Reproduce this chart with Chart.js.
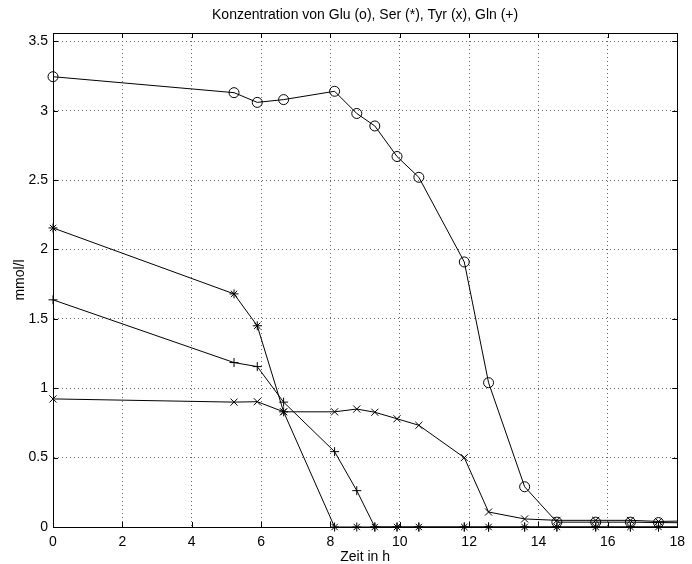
<!DOCTYPE html>
<html><head><meta charset="utf-8">
<script src="https://cdn.jsdelivr.net/npm/chart.js@4.4.1/dist/chart.umd.min.js"></script>
<style>html,body{margin:0;padding:0;background:#fff}#wrap{width:692px;height:564px;position:relative}</style>
</head><body><div id="wrap"><canvas id="c" width="692" height="564"></canvas></div>
<script>
const titleText = 'Konzentration von Glu (o), Ser (*), Tyr (x), Gln (+)';
const xTitle = 'Zeit in h';
const yTitle = 'mmol/l';
const xTicks = [0, 2, 4, 6, 8, 10, 12, 14, 16, 18];
const xTickLabels = ['0', '2', '4', '6', '8', '10', '12', '14', '16', '18'];
const yTicks = [0, 0.5, 1, 1.5, 2, 2.5, 3, 3.5];
const yTickLabels = ['0', '0.5', '1', '1.5', '2', '2.5', '3', '3.5'];
const xMin = 0, xMax = 18, yMin = 0, yMax = 3.56;

// sampling times (h); the last one lies just beyond the visible axis
const times = [0, 5.22, 5.89, 6.65, 8.12, 8.76, 9.28, 9.92, 10.55, 11.86, 12.56, 13.6, 14.53, 15.65, 16.65, 17.46, 18.6];
const glu = [3.245, 3.13, 3.06, 3.08, 3.14, 2.98, 2.89, 2.67, 2.52, 1.91, 1.04, 0.29, 0.035, 0.035, 0.035, 0.032, 0.03];
const ser = [2.155, 1.68, 1.45, 0.83, 0, 0, 0, 0, 0, 0, 0, 0, 0, 0, 0, 0, 0];
const tyr = [0.923, 0.90, 0.903, 0.83, 0.83, 0.85, 0.827, 0.78, 0.733, 0.50, 0.108, 0.058, 0.048, 0.048, 0.048, 0.04, 0.045];
const gln = [1.637, 1.185, 1.156, 0.90, 0.543, 0.262, 0, 0, 0, 0, 0, 0, 0, 0, 0, 0, 0];

const FONT = '"Liberation Sans", Arial, Helvetica, sans-serif';
const pts = arr => times.map((t, i) => ({x: t, y: arr[i]}));
const clipArea = {left: 12, top: 12, right: 0, bottom: 12};

function ds(label, arr, style, radius) {
  return {
    label, data: pts(arr),
    borderColor: '#000', borderWidth: 1,
    pointStyle: style, pointRadius: radius, pointHoverRadius: radius,
    pointBorderColor: '#000', pointBackgroundColor: 'rgba(0,0,0,0)', pointBorderWidth: 1,
    tension: 0, fill: false, clip: clipArea
  };
}

const framePlugin = {
  id: 'frame',
  beforeDatasetsDraw(chart) {
    const {ctx, chartArea: a, scales} = chart;
    ctx.save();
    ctx.strokeStyle = '#000';
    ctx.lineWidth = 1;
    const L = 5;
    ctx.beginPath();
    xTicks.forEach(v => {
      const px = Math.round(scales.x.getPixelForValue(v)) + 0.5;
      ctx.moveTo(px, a.bottom); ctx.lineTo(px, a.bottom - L);
      ctx.moveTo(px, a.top); ctx.lineTo(px, a.top + L);
    });
    yTicks.forEach(v => {
      const py = Math.round(scales.y.getPixelForValue(v)) + 0.5;
      ctx.moveTo(a.left, py); ctx.lineTo(a.left + L, py);
      ctx.moveTo(a.right, py); ctx.lineTo(a.right - L, py);
    });
    ctx.stroke();
    ctx.strokeRect(Math.round(a.left) + 0.5, Math.round(a.top) + 0.5,
                   Math.round(a.right - a.left), Math.round(a.bottom - a.top));
    ctx.restore();
  },
  afterDraw(chart) {
    const {ctx, chartArea: a} = chart;
    ctx.save();
    ctx.fillStyle = '#000';
    ctx.font = '14px ' + FONT;
    ctx.textAlign = 'center';
    ctx.textBaseline = 'middle';
    ctx.fillText(titleText, (a.left + a.right) / 2, 15);
    ctx.restore();
  }
};

new Chart(document.getElementById('c'), {
  type: 'line',
  data: {
    datasets: [
      ds('Glu', glu, 'circle', 5),
      ds('Ser', ser, 'star', 4.5),
      ds('Tyr', tyr, 'crossRot', 5),
      ds('Gln', gln, 'cross', 4.5)
    ]
  },
  plugins: [framePlugin],
  options: {
    responsive: false, animation: false, devicePixelRatio: 1,
    layout: {padding: {top: 33, right: 10, left: 0, bottom: 0}},
    plugins: {legend: {display: false}, tooltip: {enabled: false}, title: {display: false}},
    scales: {
      x: {
        type: 'linear', min: xMin, max: xMax,
        afterBuildTicks: s => { s.ticks = xTicks.map(v => ({value: v})); },
        afterFit: s => { s.height = 37; },
        ticks: {callback: (v, i) => xTickLabels[i], color: '#000', font: {family: FONT, size: 14}, padding: 7, maxRotation: 0, autoSkip: false},
        grid: {color: '#666', drawTicks: false, tickLength: 0},
        border: {display: true, color: '#000', dash: [1, 3], width: 1},
        title: {display: true, text: xTitle, color: '#000', font: {family: FONT, size: 14}, padding: {top: 0, bottom: -2}}
      },
      y: {
        type: 'linear', min: yMin, max: yMax,
        afterBuildTicks: s => { s.ticks = yTicks.map(v => ({value: v})); },
        afterFit: s => { s.width = 53; },
        ticks: {callback: (v, i) => yTickLabels[i], color: '#000', font: {family: FONT, size: 14}, padding: 5, autoSkip: false},
        grid: {color: '#666', drawTicks: false, tickLength: 0},
        border: {display: true, color: '#000', dash: [1, 3], width: 1},
        title: {display: true, text: yTitle, color: '#000', font: {family: FONT, size: 14}, padding: {top: 12, bottom: 0}}
      }
    }
  }
});
</script>
</body></html>
